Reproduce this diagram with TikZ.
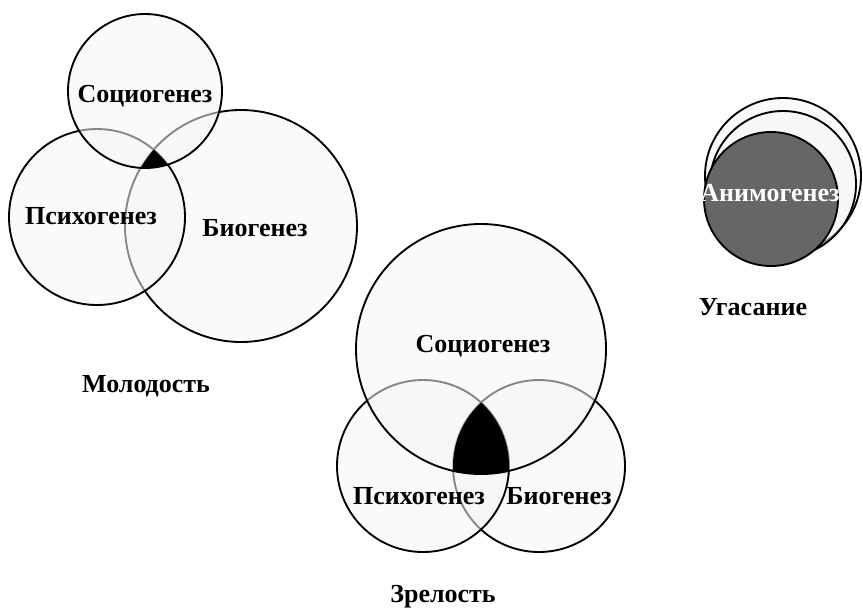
\documentclass[tikz,border=0pt]{standalone}
\usepackage{fontspec}
\setmainfont{Liberation Serif}
\begin{document}
\begin{tikzpicture}[x=0.75pt,y=-0.75pt,
  ring/.style={draw=black,line width=1.4pt,fill=gray!8,fill opacity=0.55},
  word/.style={font=\fontsize{19.5}{22}\selectfont\bfseries}]
\useasboundingbox (0,0) rectangle (863,608);
% Молодость
\draw[ring] (241,226) circle[radius=116];
\draw[ring] (97,217) circle[radius=88];
\draw[ring] (145,91) circle[radius=77];
\begin{scope}
  \clip (241,226) circle[radius=116];
  \clip (97,217) circle[radius=88];
  \fill[black] (145,91) circle[radius=77];
\end{scope}
\node[word] (ysocio) at (145,96) {Социогенез};
\node[word] (ypsycho) at (91,216) {Психогенез};
\node[word] (ybio) at (255,228) {Биогенез};
\node[word] (young) at (146,386) {Молодость};
% Зрелость
\draw[ring] (539,466) circle[radius=86];
\draw[ring] (423,466) circle[radius=86];
\draw[ring] (481,349) circle[radius=125];
\begin{scope}
  \clip (539,466) circle[radius=86];
  \clip (423,466) circle[radius=86];
  \fill[black] (481,349) circle[radius=125];
\end{scope}
\node[word] (msocio) at (483,346) {Социогенез};
\node[word] (mpsycho) at (419,496) {Психогенез};
\node[word] (mbio) at (559,496) {Биогенез};
\node[word] (mature) at (443,597) {Зрелость};
% Угасание
\draw[ring] (783,176) circle[radius=78];
\draw[ring] (783,184) circle[radius=73];
\draw[line width=1.4pt,fill=black!60] (771,199) circle[radius=67];
\node[word,text=white] (anim) at (770,193) {Анимогенез};
\node[word] (old) at (753,307) {Угасание};
\end{tikzpicture}
\end{document}
